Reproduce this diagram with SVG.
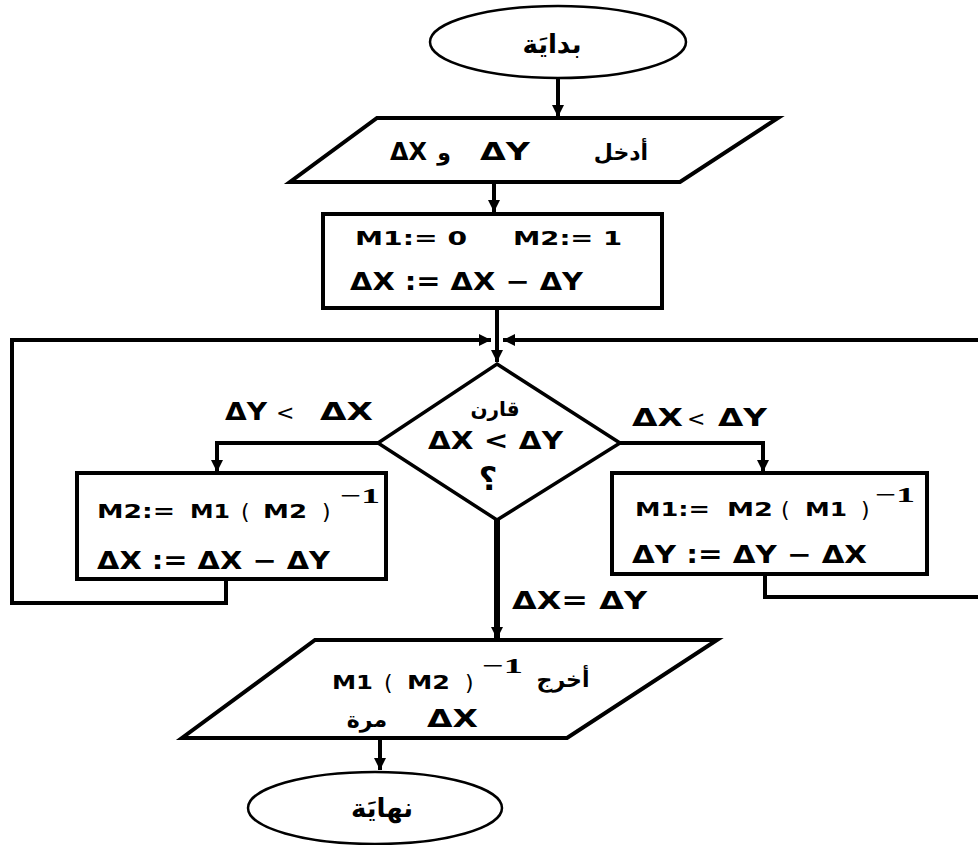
<svg xmlns="http://www.w3.org/2000/svg" width="978" height="845" viewBox="0 0 978 845">
<defs>
<marker id="ah" markerUnits="userSpaceOnUse" markerWidth="14" markerHeight="14" refX="12" refY="6" orient="auto">
<path d="M0,0 L12,6 L0,12 Z" fill="#000"/>
</marker>
</defs>
<style>
.sh{fill:#fff;stroke:#000;stroke-width:4}
.el{fill:#fff;stroke:#000;stroke-width:2.5}
.ln{fill:none;stroke:#000;stroke-width:4}
.ar{fill:none;stroke:#000;stroke-width:4;marker-end:url(#ah)}
text{font-family:"DejaVu Sans","Noto Sans",sans-serif;font-weight:bold;fill:#000}
.m{font-size:20px}
.d{font-size:24px}
.a{font-size:22px;text-anchor:middle}
.lt{font-size:22px;font-weight:normal}
.p{font-size:22px;font-weight:normal}
.s{font-size:22px;font-family:"Liberation Serif","DejaVu Serif",serif}
</style>
<rect width="978" height="845" fill="#fff"/>
<g id="connectors">
<line class="ar" x1="558" y1="77" x2="558" y2="117"/>
<line class="ar" x1="494" y1="182" x2="494" y2="212"/>
<line class="ln" x1="497" y1="308" x2="497" y2="345"/>
<line class="ar" x1="497" y1="340" x2="497" y2="362"/>
<polyline class="ar" points="226,579 226,603 12,603 12,340 491,340"/>
<polyline class="ar" points="765,574 765,597 980,597 980,340 503,340"/>
<polyline class="ar" points="378,443 217,443 217,472"/>
<polyline class="ar" points="620,443 763,443 763,472"/>
<line class="ar" x1="497" y1="520" x2="497" y2="639" style="stroke-width:6"/>
<line class="ar" x1="380" y1="738" x2="380" y2="770"/>
</g>
<g id="start">
<ellipse class="el" cx="558" cy="42" rx="128" ry="36"/>
<text class="a" x="552" y="53" style="font-size:26px">بدايَة</text>
</g>
<g id="input">
<polygon class="sh" points="377,118 778,118 680,182 290,182"/>
<text class="d" x="390" y="160" textLength="37" lengthAdjust="spacingAndGlyphs">ΔX</text>
<text class="a" x="444" y="160">و</text>
<text class="d" x="480" y="160" textLength="50" lengthAdjust="spacingAndGlyphs">ΔY</text>
<text class="a" x="621" y="160">أدخل</text>
</g>
<g id="init">
<rect class="sh" x="323" y="214" width="339" height="94"/>
<text class="m" x="355" y="245" textLength="112" lengthAdjust="spacingAndGlyphs">M1:= 0</text>
<text class="m" x="513" y="245" textLength="109" lengthAdjust="spacingAndGlyphs">M2:= 1</text>
<text class="d" x="350" y="290" textLength="233" lengthAdjust="spacingAndGlyphs">ΔX := ΔX − ΔY</text>
</g>
<g id="compare">
<polygon class="sh" points="497,364 620,443 497,520 378,443" style="stroke-width:3.5"/>
<text class="a" x="495" y="416" style="font-size:20px">قارن</text>
<text class="d" x="428" y="449" textLength="135" lengthAdjust="spacingAndGlyphs">ΔX &lt; ΔY</text>
<text class="a" x="488" y="490" style="font-size:32px">؟</text>
</g>
<g id="label-left">
<text class="d" x="225" y="420" textLength="42" lengthAdjust="spacingAndGlyphs">ΔY</text>
<text class="lt" x="276" y="420">&lt;</text>
<text class="d" x="320" y="420" textLength="53" lengthAdjust="spacingAndGlyphs">ΔX</text>
</g>
<g id="label-right">
<text class="d" x="632" y="426" textLength="51" lengthAdjust="spacingAndGlyphs">ΔX</text>
<text class="lt" x="687" y="426">&lt;</text>
<text class="d" x="718" y="426" textLength="49" lengthAdjust="spacingAndGlyphs">ΔY</text>
</g>
<g id="box-left">
<rect class="sh" x="77" y="473" width="309" height="106"/>
<text class="m" x="97" y="518" textLength="78" lengthAdjust="spacingAndGlyphs">M2:=</text>
<text class="m" x="190" y="518" textLength="40" lengthAdjust="spacingAndGlyphs">M1</text>
<text class="p" x="241" y="519">(</text>
<text class="m" x="263" y="518" textLength="44" lengthAdjust="spacingAndGlyphs">M2</text>
<text class="p" x="322" y="519">)</text>
<text class="s" x="340" y="503" textLength="40" lengthAdjust="spacingAndGlyphs">−1</text>
<text class="d" x="97" y="569" textLength="233" lengthAdjust="spacingAndGlyphs">ΔX := ΔX − ΔY</text>
</g>
<g id="box-right">
<rect class="sh" x="612" y="473" width="315" height="101"/>
<text class="m" x="635" y="516" textLength="75" lengthAdjust="spacingAndGlyphs">M1:=</text>
<text class="m" x="727" y="516" textLength="46" lengthAdjust="spacingAndGlyphs">M2</text>
<text class="p" x="781" y="517">(</text>
<text class="m" x="805" y="516" textLength="42" lengthAdjust="spacingAndGlyphs">M1</text>
<text class="p" x="861" y="517">)</text>
<text class="s" x="875" y="502" textLength="40" lengthAdjust="spacingAndGlyphs">−1</text>
<text class="d" x="632" y="563" textLength="235" lengthAdjust="spacingAndGlyphs">ΔY := ΔY − ΔX</text>
</g>
<g id="label-equal">
<text class="d" x="512" y="609" textLength="135" lengthAdjust="spacingAndGlyphs">ΔX= ΔY</text>
</g>
<g id="output">
<polygon class="sh" points="315,640 717,640 567,738 182,738"/>
<text class="m" x="332" y="689" textLength="41" lengthAdjust="spacingAndGlyphs">M1</text>
<text class="p" x="384" y="690">(</text>
<text class="m" x="407" y="689" textLength="43" lengthAdjust="spacingAndGlyphs">M2</text>
<text class="p" x="465" y="690">)</text>
<text class="s" x="482" y="673" textLength="41" lengthAdjust="spacingAndGlyphs">−1</text>
<text class="a" x="563" y="687">أخرج</text>
<text class="d" x="427" y="727" textLength="51" lengthAdjust="spacingAndGlyphs">ΔX</text>
<text class="a" x="367" y="727">مرة</text>
</g>
<g id="end">
<ellipse class="el" cx="375" cy="808" rx="127" ry="36"/>
<text class="a" x="382" y="817" style="font-size:26px">نهايَة</text>
</g>
</svg>
